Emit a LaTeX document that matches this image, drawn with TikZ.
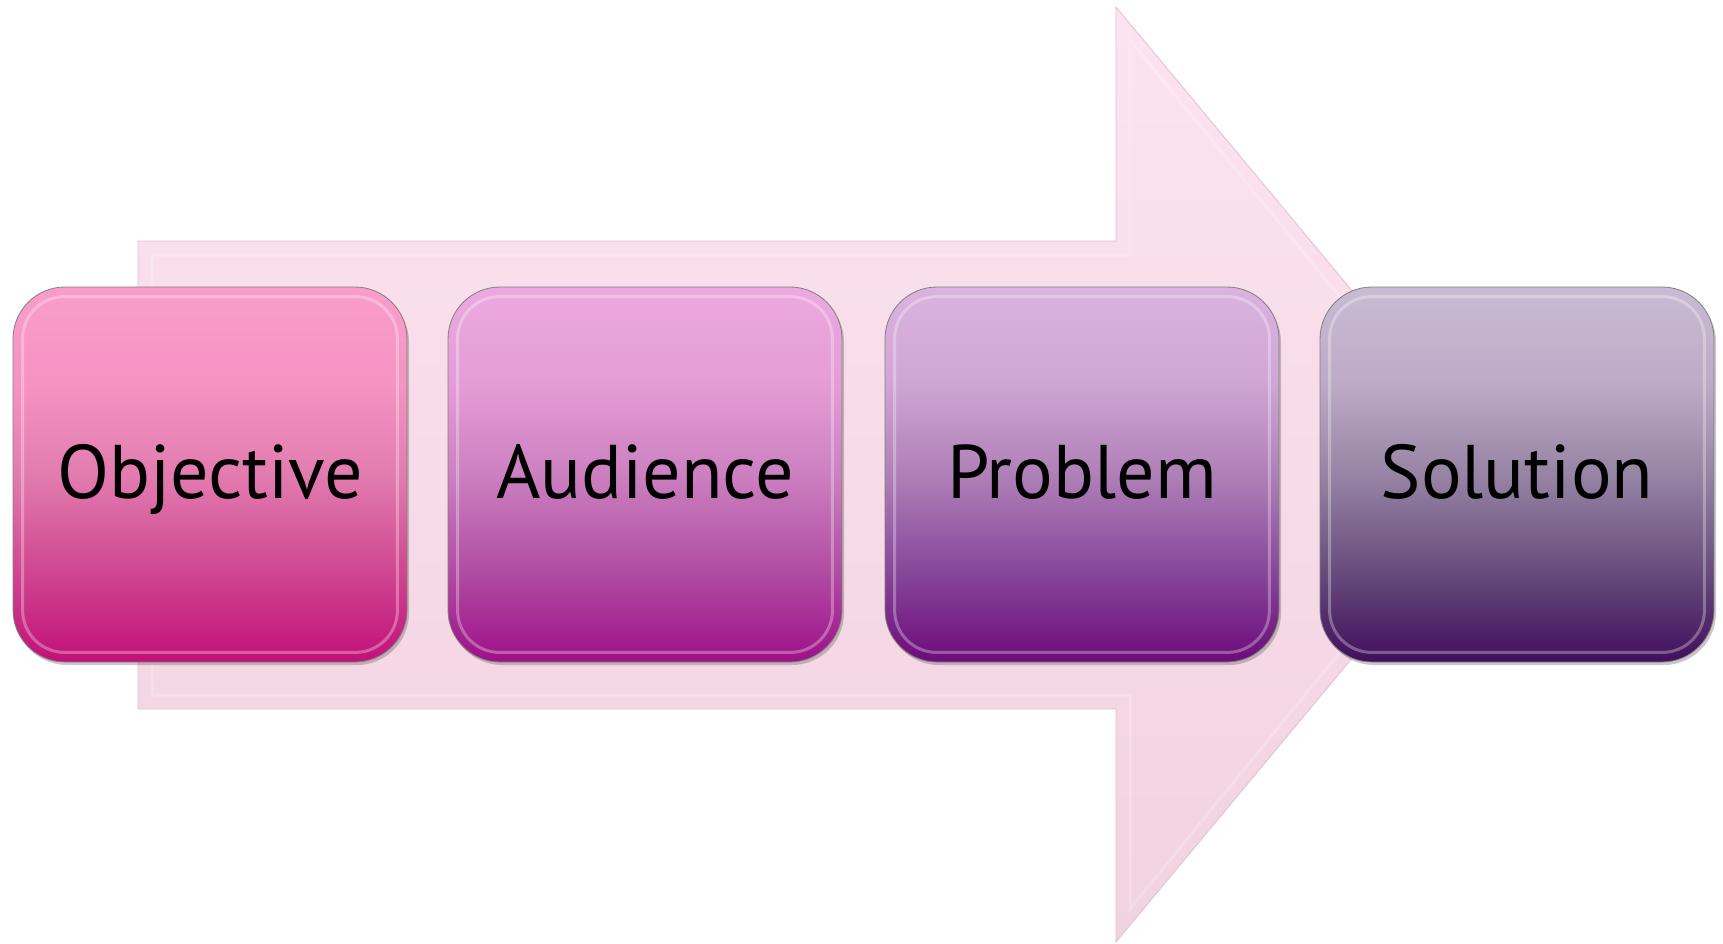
\documentclass[tikz,border=0pt]{standalone}
\usepackage{fontspec}
\setmainfont{PT Sans}
\usetikzlibrary{shadows}
\definecolor{arrTop}{HTML}{FDE3F0}
\definecolor{arrBot}{HTML}{F1D3DF}
\definecolor{arrEdge}{HTML}{E2C0CF}
\definecolor{oT}{HTML}{FA9DCB}\definecolor{oT2}{HTML}{F593C3}\definecolor{oM}{HTML}{E27CAF}\definecolor{oB2}{HTML}{CF4690}\definecolor{oB}{HTML}{C2107A}
\definecolor{aT}{HTML}{ECA9E0}\definecolor{aT2}{HTML}{E49CD6}\definecolor{aM}{HTML}{CC80C0}\definecolor{aB2}{HTML}{B04CA2}\definecolor{aB}{HTML}{9E1088}
\definecolor{pT}{HTML}{DAB3DF}\definecolor{pT2}{HTML}{CFA5D5}\definecolor{pM}{HTML}{AF80B7}\definecolor{pB2}{HTML}{87469A}\definecolor{pB}{HTML}{6C0C7A}
\definecolor{sT}{HTML}{C9BBD3}\definecolor{sT2}{HTML}{BCAAC6}\definecolor{sM}{HTML}{9784A4}\definecolor{sB2}{HTML}{664C7C}\definecolor{sB}{HTML}{420E5C}
\pgfdeclareverticalshading{objShade}{100bp}{color(0bp)=(oB); color(25bp)=(oB); color(37bp)=(oB2); color(50bp)=(oM); color(62bp)=(oT2); color(75bp)=(oT); color(100bp)=(oT)}
\pgfdeclareverticalshading{audShade}{100bp}{color(0bp)=(aB); color(25bp)=(aB); color(37bp)=(aB2); color(50bp)=(aM); color(62bp)=(aT2); color(75bp)=(aT); color(100bp)=(aT)}
\pgfdeclareverticalshading{probShade}{100bp}{color(0bp)=(pB); color(25bp)=(pB); color(37bp)=(pB2); color(50bp)=(pM); color(62bp)=(pT2); color(75bp)=(pT); color(100bp)=(pT)}
\pgfdeclareverticalshading{solShade}{100bp}{color(0bp)=(sB); color(25bp)=(sB); color(37bp)=(sB2); color(50bp)=(sM); color(62bp)=(sT2); color(75bp)=(sT); color(100bp)=(sT)}
\tikzset{
  stage/.style={draw=black!50, line width=0.8pt, rounded corners=52pt,
    minimum width=394pt, minimum height=375pt, inner sep=0pt,
    drop shadow={shadow xshift=2pt, shadow yshift=-3pt, opacity=0.3, fill=black!70}},
  bevel/.style={draw=white, line width=3pt, opacity=0.3, rounded corners=42pt},
  label/.style={font=\fontsize{76pt}{80pt}\selectfont, text=black, anchor=base}
}
\begin{document}
\begin{tikzpicture}[x=1pt,y=-1pt]
\useasboundingbox (0,0) rectangle (1723,943);
% big background arrow
\draw[arrEdge, line width=0.8pt, top color=arrTop, bottom color=arrBot]
  (138,241) -- (1116,241) -- (1116,7) -- (1505,474.5) -- (1116,942) -- (1116,709) -- (138,709) -- cycle;
\draw[white, opacity=0.2, line width=3pt]
  (152,255) -- (1130,255) -- (1130,40) -- (1485,474.5) -- (1130,909) -- (1130,695) -- (152,695) -- cycle;
% stages
\foreach \n/\cx/\sh/\txt in {obj/210/objShade/Objective, aud/645/audShade/Audience, prob/1082/probShade/Problem, sol/1517/solShade/Solution}{
  \node[stage, shading=\sh] (\n) at (\cx,474.5) {};
  \draw[bevel] ([xshift=10pt,yshift=-10pt]\n.north west) rectangle ([xshift=-10pt,yshift=10pt]\n.south east);
  \node[label] (\n-t) at (\cx,498) {\txt};
}
\end{tikzpicture}
\end{document}
